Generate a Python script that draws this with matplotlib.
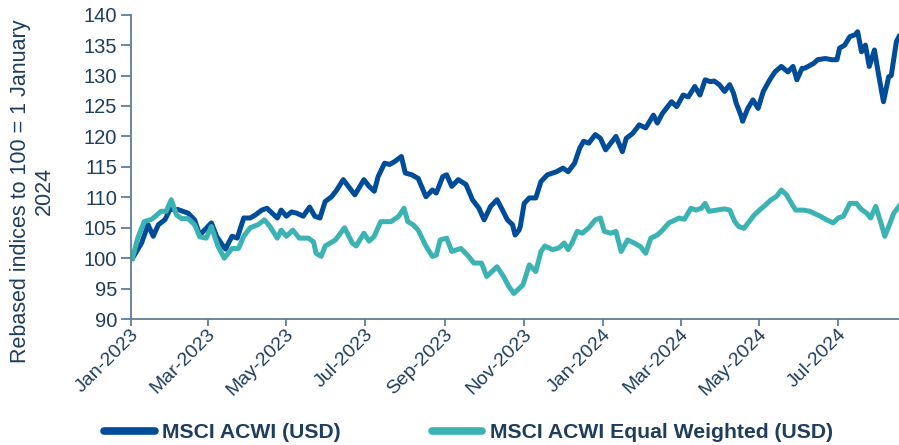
import matplotlib
matplotlib.use("Agg")
import matplotlib.pyplot as plt
import matplotlib.dates as mdates
import matplotlib.transforms as mtransforms
import numpy as np
import pandas as pd

# MSCI ACWI (USD), rebased
acwi_dates = [
    "2023-01-02", "2023-01-09", "2023-01-14", "2023-01-18", "2023-01-22", "2023-01-27", "2023-01-31",
    "2023-02-06", "2023-02-14", "2023-02-19", "2023-02-23", "2023-03-04", "2023-03-08", "2023-03-13",
    "2023-03-15", "2023-03-17", "2023-03-20", "2023-03-24", "2023-03-29", "2023-04-03", "2023-04-07",
    "2023-04-12", "2023-04-16", "2023-04-20", "2023-04-24", "2023-04-27", "2023-05-01", "2023-05-05",
    "2023-05-09", "2023-05-14", "2023-05-19", "2023-05-23", "2023-05-27", "2023-05-31", "2023-06-05",
    "2023-06-09", "2023-06-14", "2023-06-18", "2023-06-23", "2023-06-30", "2023-07-04", "2023-07-08",
    "2023-07-11", "2023-07-16", "2023-07-20", "2023-07-24", "2023-07-29", "2023-08-01", "2023-08-06",
    "2023-08-11", "2023-08-17", "2023-08-22", "2023-08-25", "2023-08-30", "2023-09-02", "2023-09-06",
    "2023-09-11", "2023-09-17", "2023-09-22", "2023-09-27", "2023-10-01", "2023-10-06", "2023-10-11",
    "2023-10-15", "2023-10-19", "2023-10-23", "2023-10-25", "2023-10-28", "2023-10-29", "2023-11-01",
    "2023-11-05", "2023-11-10", "2023-11-14", "2023-11-19", "2023-11-26", "2023-12-01", "2023-12-05",
    "2023-12-10", "2023-12-14", "2023-12-17", "2023-12-21", "2023-12-26", "2023-12-30", "2024-01-03",
    "2024-01-07", "2024-01-11", "2024-01-16", "2024-01-19", "2024-01-24", "2024-01-29", "2024-02-03",
    "2024-02-09", "2024-02-12", "2024-02-16", "2024-02-23", "2024-02-27", "2024-03-03", "2024-03-07",
    "2024-03-12", "2024-03-16", "2024-03-20", "2024-03-24", "2024-03-27", "2024-03-31", "2024-04-04",
    "2024-04-08", "2024-04-11", "2024-04-13", "2024-04-17", "2024-04-18", "2024-04-22", "2024-04-26",
    "2024-04-30", "2024-05-04", "2024-05-09", "2024-05-13", "2024-05-18", "2024-05-23", "2024-05-27",
    "2024-05-30", "2024-06-03", "2024-06-05", "2024-06-12", "2024-06-15", "2024-06-21", "2024-06-26",
    "2024-06-30", "2024-07-02", "2024-07-06", "2024-07-10", "2024-07-14", "2024-07-16", "2024-07-19",
    "2024-07-22", "2024-07-25", "2024-07-29", "2024-08-01", "2024-08-05", "2024-08-09", "2024-08-11",
    "2024-08-15", "2024-08-17",
]
acwi_values = [
    100.0, 102.5, 105.5, 103.6, 105.5, 106.3, 108.0,
    108.0, 107.4, 106.3, 103.8, 105.8, 103.6, 102.0,
    101.5, 102.4, 103.6, 103.3, 106.6, 106.6, 107.1,
    107.9, 108.2, 107.4, 106.6, 107.9, 106.9, 107.6,
    107.4, 106.9, 108.4, 106.9, 106.6, 109.3, 110.1,
    111.2, 112.9, 111.8, 110.4, 112.9, 111.8, 111.0,
    113.4, 115.6, 115.4, 115.9, 116.7, 114.0, 113.7,
    113.1, 110.1, 111.2, 110.7, 113.4, 113.7, 111.8,
    112.9, 112.1, 109.6, 108.2, 106.3, 108.5, 109.6,
    108.0, 106.3, 105.5, 103.8, 104.6, 105.2, 109.0,
    109.9, 109.9, 112.6, 113.7, 114.2, 114.8, 114.2,
    115.6, 118.1, 119.2, 118.9, 120.3, 119.7, 117.8,
    118.9, 120.0, 117.5, 119.7, 120.5, 121.9, 121.4,
    123.5, 122.2, 123.8, 125.7, 124.9, 126.8, 126.5,
    128.2, 126.8, 129.3, 129.0, 129.1, 128.5, 127.4,
    128.5, 127.1, 125.5, 123.3, 122.5, 124.6, 126.0,
    124.6, 127.4, 129.3, 130.6, 131.5, 130.6, 131.5,
    129.3, 131.2, 131.2, 132.0, 132.6, 132.8, 132.6,
    132.6, 134.5, 135.0, 136.4, 136.7, 137.2, 133.9,
    135.0, 131.5, 134.2, 130.4, 125.7, 129.8, 130.0,
    135.6, 136.4,
]

# MSCI ACWI Equal Weighted (USD), rebased
ew_dates = [
    "2023-01-02", "2023-01-06", "2023-01-11", "2023-01-17", "2023-01-24", "2023-01-28", "2023-02-01",
    "2023-02-05", "2023-02-09", "2023-02-14", "2023-02-19", "2023-02-23", "2023-02-28", "2023-03-04",
    "2023-03-09", "2023-03-14", "2023-03-20", "2023-03-25", "2023-03-29", "2023-04-03", "2023-04-09",
    "2023-04-14", "2023-04-18", "2023-04-24", "2023-04-27", "2023-05-01", "2023-05-06", "2023-05-11",
    "2023-05-18", "2023-05-22", "2023-05-24", "2023-05-28", "2023-05-31", "2023-06-08", "2023-06-15",
    "2023-06-21", "2023-06-24", "2023-06-30", "2023-07-04", "2023-07-08", "2023-07-13", "2023-07-16",
    "2023-07-21", "2023-07-27", "2023-07-31", "2023-08-03", "2023-08-07", "2023-08-11", "2023-08-17",
    "2023-08-22", "2023-08-25", "2023-08-28", "2023-09-02", "2023-09-06", "2023-09-13", "2023-09-19",
    "2023-09-23", "2023-09-29", "2023-10-03", "2023-10-11", "2023-10-16", "2023-10-20", "2023-10-24",
    "2023-10-28", "2023-10-31", "2023-11-05", "2023-11-10", "2023-11-14", "2023-11-17", "2023-11-23",
    "2023-11-28", "2023-12-02", "2023-12-05", "2023-12-08", "2023-12-12", "2023-12-16", "2023-12-21",
    "2023-12-26", "2023-12-30", "2024-01-02", "2024-01-07", "2024-01-11", "2024-01-15", "2024-01-20",
    "2024-01-25", "2024-01-30", "2024-02-03", "2024-02-07", "2024-02-12", "2024-02-16", "2024-02-21",
    "2024-02-26", "2024-02-29", "2024-03-04", "2024-03-09", "2024-03-13", "2024-03-17", "2024-03-20",
    "2024-03-23", "2024-03-29", "2024-04-04", "2024-04-08", "2024-04-12", "2024-04-15", "2024-04-19",
    "2024-04-23", "2024-04-27", "2024-05-01", "2024-05-06", "2024-05-10", "2024-05-14", "2024-05-18",
    "2024-05-22", "2024-05-25", "2024-05-29", "2024-06-04", "2024-06-09", "2024-06-12", "2024-06-17",
    "2024-06-22", "2024-06-27", "2024-07-01", "2024-07-05", "2024-07-10", "2024-07-15", "2024-07-19",
    "2024-07-23", "2024-07-26", "2024-07-30", "2024-08-03", "2024-08-06", "2024-08-09", "2024-08-13",
    "2024-08-17",
]
ew_values = [
    100.0, 103.3, 106.0, 106.4, 107.7, 107.7, 109.6,
    107.1, 106.5, 106.5, 105.5, 103.5, 103.3, 105.2,
    102.0, 100.0, 101.6, 101.6, 103.6, 105.0, 105.5,
    106.3, 105.3, 103.3, 104.6, 103.6, 104.6, 103.3,
    103.3, 102.7, 100.8, 100.3, 102.0, 103.0, 105.0,
    102.5, 102.0, 104.1, 102.8, 103.6, 106.0, 106.0,
    106.0, 106.9, 108.2, 106.0, 105.5, 104.6, 102.0,
    100.3, 100.5, 103.0, 103.3, 101.1, 101.6, 100.3,
    99.2, 99.2, 97.0, 98.6, 97.0, 95.4, 94.2,
    95.0, 95.6, 98.9, 97.8, 101.1, 102.0, 101.4,
    101.7, 102.5, 101.4, 102.5, 104.4, 104.1, 105.0,
    106.3, 106.6, 104.4, 104.1, 104.4, 101.1, 103.0,
    102.5, 101.9, 100.8, 103.3, 103.8, 104.6, 105.8,
    106.3, 106.6, 106.4, 108.2, 107.9, 108.2, 109.0,
    107.7, 107.9, 108.1, 107.9, 106.0, 105.2, 104.9,
    106.0, 107.1, 107.9, 108.8, 109.6, 110.1, 111.2,
    110.4, 109.3, 107.9, 107.9, 107.7, 107.4, 106.9,
    106.3, 105.8, 106.6, 106.9, 109.0, 109.0, 108.0,
    107.4, 106.6, 108.5, 105.8, 103.6, 105.2, 107.4,
    108.5,
]

series_labels = ["MSCI ACWI (USD)", "MSCI ACWI Equal Weighted (USD)"]
y_label = "Rebased indices to 100 = 1 January\n2024"

navy = "#004C99"
teal = "#3BB3B3"
text_col = "#1F3D5C"
axis_col = "#5E7E98"

plt.rcParams['font.family'] = ['Liberation Sans', 'DejaVu Sans']

fig = plt.figure(figsize=(8.99, 4.45), dpi=100)
ax = fig.add_axes([0.146, 0.283, 0.854, 0.684])

ax.plot(pd.to_datetime(acwi_dates), acwi_values, color=navy, lw=3.6,
        solid_joinstyle='round', label=series_labels[0])
ax.plot(pd.to_datetime(ew_dates), ew_values, color=teal, lw=3.6,
        solid_joinstyle='round', label=series_labels[1])

ax.set_ylim(90, 140)
ax.set_yticks(np.arange(90, 141, 5))
ax.set_xlim(pd.Timestamp("2023-01-01"), pd.Timestamp("2024-08-17"))
ax.xaxis.set_major_locator(mdates.MonthLocator(bymonth=[1, 3, 5, 7, 9, 11]))
ax.xaxis.set_major_formatter(mdates.DateFormatter("%b-%Y"))

for s in ["top", "right"]:
    ax.spines[s].set_visible(False)
for s in ["left", "bottom"]:
    ax.spines[s].set_color(axis_col)
    ax.spines[s].set_linewidth(1.3)

ax.tick_params(axis='y', direction='out', length=7, width=1.3, color=axis_col,
               labelsize=14.5, labelcolor=text_col, pad=3)
ax.tick_params(axis='x', direction='out', length=5, width=1.3, color=axis_col,
               labelsize=14, labelcolor=text_col, pad=2)
# nudge the slanted date labels a little right/down like the original
shift = mtransforms.ScaledTranslation(5 / 100, -3 / 100, fig.dpi_scale_trans)
for lab in ax.get_xticklabels():
    lab.set_rotation(45)
    lab.set_ha('right')
    lab.set_va('center')
    lab.set_rotation_mode('anchor')
    lab.set_transform(lab.get_transform() + shift)

fig.text(0.036, 0.57, y_label, rotation=90, ha='center', va='center',
         multialignment='center', fontsize=15.5, color=text_col)

leg = fig.legend(loc='center', bbox_to_anchor=(0.521, 0.028), ncol=2, frameon=False,
                 handlelength=2.4, columnspacing=4.3, handletextpad=0.35,
                 prop={'weight': 'bold', 'size': 15.2})
for t in leg.get_texts():
    t.set_color(text_col)
for h in leg.legend_handles:
    h.set_linewidth(5.5)
    h.set_solid_capstyle('round')

fig.savefig("out.png", dpi=100)
